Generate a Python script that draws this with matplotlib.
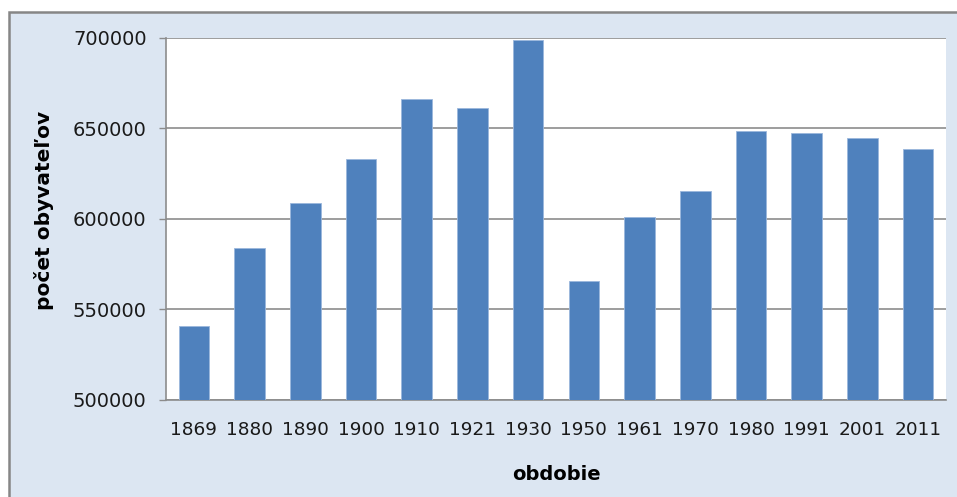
import matplotlib.pyplot as plt
from matplotlib.patches import Rectangle

years = ["1869", "1880", "1890", "1900", "1910", "1921", "1930",
         "1950", "1961", "1970", "1980", "1991", "2001", "2011"]
population = [540500, 583900, 608600, 632700, 665800, 661000, 698400,
              565500, 600800, 615200, 648300, 647000, 644300, 638700]
y_ticks = [500000, 550000, 600000, 650000, 700000]

bar_color = "#4f81bd"
grid_color = "#8c8c8c"
panel_color = "#dce6f2"

fig = plt.figure(figsize=(9.57, 4.97), dpi=100)
fig.patch.set_facecolor("white")

# outer chart frame (runs off the right and bottom edge)
frame = Rectangle((9 / 957, -0.05), 1.0, 1 - 12 / 497 + 0.05,
                  transform=fig.transFigure, facecolor=panel_color,
                  edgecolor="#868686", linewidth=1.8, zorder=-5)
fig.patches.append(frame)

ax = fig.add_axes([166 / 957, 1 - 399.7 / 497, 780 / 957, 362.2 / 497])
ax.set_facecolor("white")

x = range(len(years))
ax.bar(x, population, width=0.55, color=bar_color,
       edgecolor="#9bb7dc", linewidth=0.6, zorder=3)

ax.set_xlim(-0.5, len(years) - 0.5)
ax.set_ylim(500000, 700000)
ax.set_yticks(y_ticks)
ax.set_yticklabels([str(v) for v in y_ticks], fontsize=14, color="#1a1a1a")
ax.set_xticks(list(x))
ax.set_xticklabels(years, fontsize=13.3, color="#1a1a1a")

ax.yaxis.grid(True, color=grid_color, linewidth=1.2, zorder=1)
ax.set_axisbelow(True)
ax.tick_params(axis="y", length=5, width=1, color=grid_color, pad=9)
ax.tick_params(axis="x", length=0, pad=15)

for side in ["top", "right"]:
    ax.spines[side].set_visible(False)
for side in ["left", "bottom"]:
    ax.spines[side].set_color(grid_color)
    ax.spines[side].set_linewidth(1.2)

fig.text(44 / 957, 1 - 210 / 497, "počet obyvateľov", rotation=90,
         ha="center", va="center", fontsize=14.5, fontweight="bold")
fig.text(556 / 957, 1 - 474 / 497, "obdobie",
         ha="center", va="center", fontsize=14, fontweight="bold")

fig.savefig("out.png", dpi=100)
